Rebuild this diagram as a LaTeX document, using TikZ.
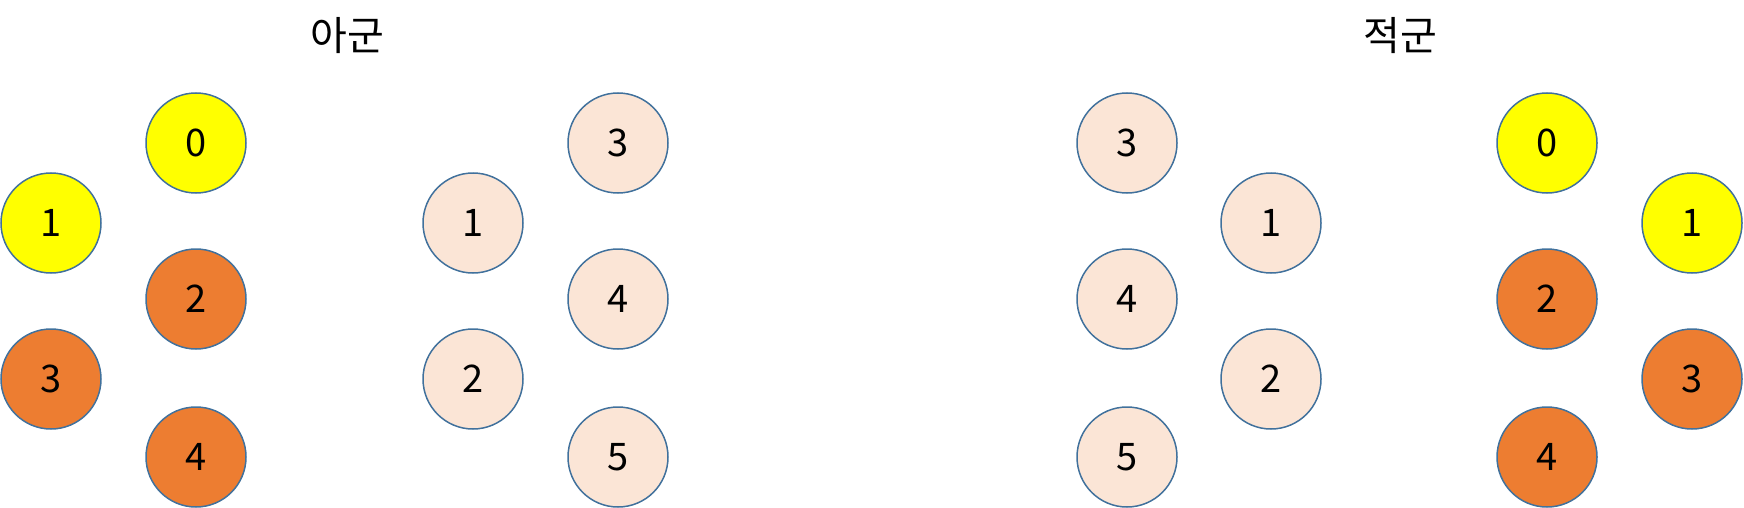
\documentclass[tikz,border=0pt]{standalone}
\usepackage{fontspec}
\setmainfont{Noto Sans CJK KR}
\newdimen\unitsize
\setlength{\unitsize}{0.5pt}
\definecolor{unitedge}{HTML}{41719C}
\definecolor{unityellow}{HTML}{FFFF00}
\definecolor{unitorange}{HTML}{ED7D31}
\definecolor{unitpeach}{HTML}{FBE5D6}

\begin{document}
\begin{tikzpicture}[x=\unitsize,y=-\unitsize]
\tikzset{unit/.style={circle, draw=unitedge, line width=0.75pt, minimum size=100\unitsize, inner sep=0pt, font=\fontsize{19}{21}\selectfont}}%
\tikzset{lead/.style={unit, fill=unityellow}}%
\tikzset{tail/.style={unit, fill=unitorange}}%
\tikzset{other/.style={unit, fill=unitpeach}}%
\tikzset{side/.style={font=\fontsize{20}{22}\selectfont}}%
\useasboundingbox (0,0) rectangle (1744,508);
% ally
\node[side] (allyTitle) at (347,36) {아군};
\node[lead] (a0) at (196,143) {0};
\node[lead] (a1) at (51,223) {1};
\node[tail] (a2) at (196,299) {2};
\node[tail] (a3) at (51,379) {3};
\node[tail] (a4) at (196,457) {4};
\node[other] (b1) at (473,223) {1};
\node[other] (b2) at (473,379) {2};
\node[other] (b3) at (618,143) {3};
\node[other] (b4) at (618,299) {4};
\node[other] (b5) at (618,457) {5};
% enemy
\node[side] (enemyTitle) at (1400,36) {적군};
\node[other] (c3) at (1127,143) {3};
\node[other] (c4) at (1127,299) {4};
\node[other] (c5) at (1127,457) {5};
\node[other] (c1) at (1271,223) {1};
\node[other] (c2) at (1271,379) {2};
\node[lead] (d0) at (1547,143) {0};
\node[lead] (d1) at (1692,223) {1};
\node[tail] (d2) at (1547,299) {2};
\node[tail] (d3) at (1692,379) {3};
\node[tail] (d4) at (1547,457) {4};
\end{tikzpicture}
\end{document}
